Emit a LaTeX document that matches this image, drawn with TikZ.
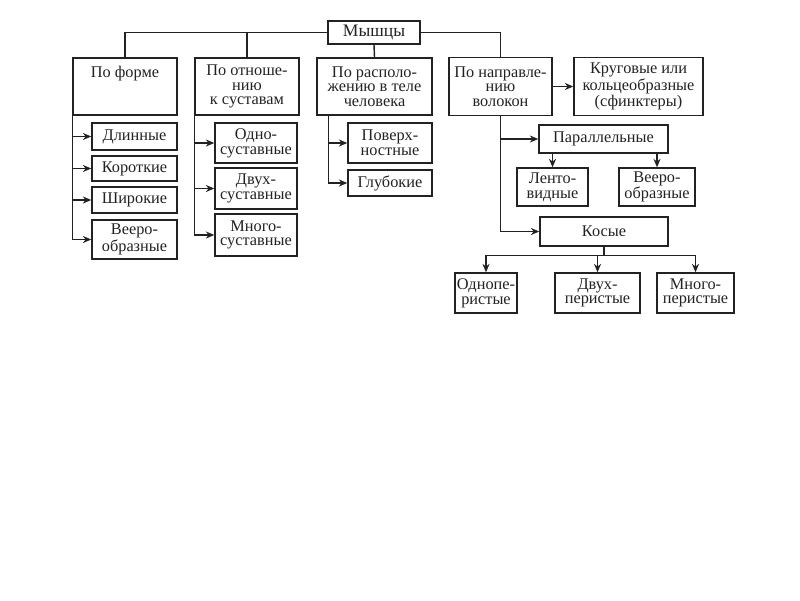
\documentclass[tikz,border=0pt]{standalone}
\usepackage{fontspec}
\setmainfont{Liberation Serif}
\usepackage{tikz}
\usetikzlibrary{arrows.meta,positioning,calc}
\definecolor{cInk}{HTML}{222222}
\tikzset{
  bx/.style 2 args={draw=cInk,line width=1pt,align=center,text=cInk,inner sep=1pt,
    font={\fontsize{11.6}{10.5}\selectfont},minimum width=#1*0.025cm,minimum height=#2*0.025cm},
  arr/.style={-{Stealth[length=6pt,width=5pt]},line width=1pt,draw=cInk},
  ln/.style={line width=1pt,draw=cInk},
}

\begin{document}
\begin{tikzpicture}[x=0.025cm,y=-0.025cm]
    \path[fill=white] (0,0) rectangle (800,600);
    % top level
    \node[bx={92}{23},font={\fontsize{12.5}{11}\selectfont}] (root) at (374,32.5) {Мышцы};
    \node[bx={104}{57}] (forma) at (125,86.5) {По форме\\\mbox{}\\\mbox{}};
    \node[bx={104}{57}] (sust) at (247,86.5) {По отноше-\\нию\\к суставам};
    \node[bx={115}{57}] (rasp) at (374.5,86.5) {По располо-\\жению в теле\\человека};
    \node[bx={103}{58}] (napr) at (500.5,86.5) {По направле-\\нию\\волокон};
    \node[bx={129}{58}] (krug) at (638.5,86.5) {Круговые или\\кольцеобразные\\(сфинктеры)};
    \draw[ln] (root.west) -| (forma.north);
    \draw[ln] (sust.north) |- (root.west);
    \draw[ln] (root.south) -- (rasp.north);
    \draw[ln] (root.east) -| (napr.north);
    \draw[arr] (napr.east) -- (krug.west);
    % по форме
    \foreach \n/\y/\h/\t in {dlin/136.5/27/Длинные,korot/168.5/25/Короткие,shir/200/26/Широкие,veer/239.5/39/{Вееро-\\образные}}{
      \node[bx={85}{\h}] (\n) at (134.5,\y) {\t};
      \draw[arr] (forma.south west) |- (\n.west);}
    % по отношению к суставам
    \foreach \n/\y/\h/\t in {odno/143/40/{Одно-\\суставные},dvuh/188.5/41/{Двух-\\суставные},mnogo/235/42/{Много-\\суставные}}{
      \node[bx={82}{\h}] (\n) at (256,\y) {\t};
      \draw[arr] (sust.south west) |- (\n.west);}
    % по расположению
    \coordinate (rs) at ($(rasp.south west)+(12,0)$);
    \node[bx={84}{40}] (poverh) at (390,143) {Поверх-\\ностные};
    \node[bx={84}{26}] (glub) at (390,183) {Глубокие};
    \draw[arr] (rs) |- (poverh.west);
    \draw[arr] (rs) |- (glub.west);
    % по направлению волокон
    \node[bx={129}{28}] (parall) at (603.5,139) {Параллельные};
    \node[bx={71}{38}] (lento) at (552.5,187) {Ленто-\\видные};
    \node[bx={76}{38}] (veer2) at (657,187) {Вееро-\\образные};
    \node[bx={128}{29}] (kos) at (604,231.5) {Косые};
    \node[bx={62}{40}] (odnop) at (486,293) {Однопе-\\ристые};
    \node[bx={85}{40}] (dvuhp) at (597.5,293) {Двух-\\перистые};
    \node[bx={77}{40}] (mnogop) at (695.5,293) {Много-\\перистые};
    \draw[arr] (napr.south) |- (parall.west);
    \draw[arr] (napr.south) |- (kos.west);
    \draw[arr] (lento.north |- parall.south) -- (lento.north);
    \draw[arr] (veer2.north |- parall.south) -- (veer2.north);
    \coordinate (kb) at ($(kos.south)+(0,9)$);
    \draw[ln] (kos.south) -- (kb);
    \draw[arr] (kb) -| (odnop.north);
    \draw[arr] (kb) -| (mnogop.north);
    \draw[arr] (kb -| dvuhp.north) -- (dvuhp.north);
\end{tikzpicture}
\end{document}
